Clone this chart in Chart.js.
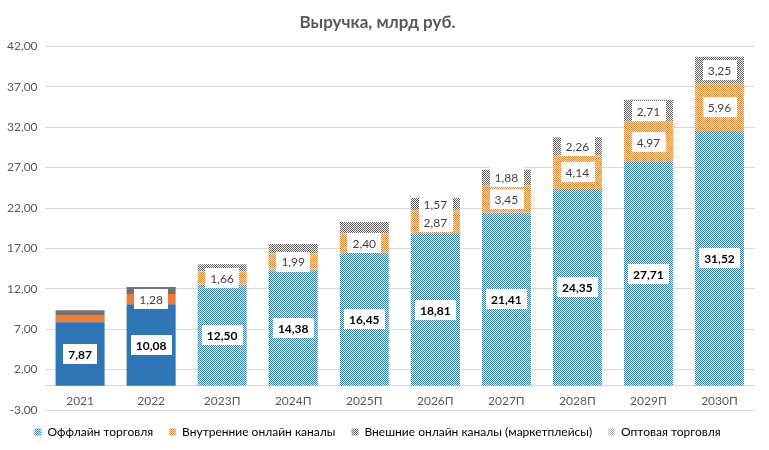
<!DOCTYPE html>
<html>
<head>
  <meta charset="UTF-8">
  <title>Выручка, млрд руб.</title>
  <style type="text/css">
    html, body { margin: 0; padding: 0; background: #fff; }
    #chart-container { width: 769px; height: 450px; }
  </style>
  <script type="text/javascript" src="https://cdn.jsdelivr.net/npm/chart.js@4.4.0/dist/chart.umd.min.js"></script>
</head>
<body>
<div id="chart-container">
  <canvas id="mycanvas" width="769" height="450"></canvas>
</div>
<script>
// data
var categories = ['2021', '2022', '2023П', '2024П', '2025П', '2026П', '2027П', '2028П', '2029П', '2030П'];
var offline   = [7.87, 10.08, 12.50, 14.38, 16.45, 18.81, 21.41, 24.35, 27.71, 31.52];
var internal  = [0.88, 1.28, 1.66, 1.99, 2.40, 2.87, 3.45, 4.14, 4.97, 5.96];
var external  = [0.58, 0.87, 0.89, 1.17, 1.42, 1.57, 1.88, 2.26, 2.71, 3.25];
var wholesale = [0, 0, 0, 0, 0, 0, 0, 0, 0, 0];
// which values carry a label
var offlineLabeled  = [true, true, true, true, true, true, true, true, true, true];
var internalLabeled = [false, true, true, true, true, true, true, true, true, true];
var externalLabeled = [false, false, false, false, false, true, true, true, true, true];
var wholesaleLabeled = [false, false, false, false, false, false, false, false, false, false];
var forecastFrom = 2; // index of first forecast year
var yTicks = { min: -3, max: 42, step: 5 };

var FONT = "Lato, 'Open Sans', sans-serif";

function makePattern(color) {
  var c = document.createElement('canvas');
  c.width = 2; c.height = 2;
  var g = c.getContext('2d');
  g.fillStyle = '#ffffff';
  g.fillRect(0, 0, 2, 2);
  g.fillStyle = color;
  g.fillRect(0, 0, 1, 1);
  g.fillRect(1, 1, 1, 1);
  return g.createPattern(c, 'repeat');
}

// solid for actual years, checker pattern for forecast years
function barColor(color, patColor) {
  var pat = makePattern(patColor || color);
  return function(ctx) {
    return ctx.dataIndex >= forecastFrom ? pat : color;
  };
}

function fmt(v) {
  return v.toFixed(2).replace('.', ',');
}

var labelPlugin = {
  id: 'segLabels',
  afterDatasetsDraw: function(chart) {
    var ctx = chart.ctx;
    chart.data.datasets.forEach(function(ds, di) {
      var meta = chart.getDatasetMeta(di);
      meta.data.forEach(function(bar, i) {
        if (!ds.labeled[i]) return;
        var yc = (bar.y + bar.base) / 2;
        var txt = fmt(ds.data[i]);
        ctx.save();
        ctx.font = (ds.boldLabels ? 'bold ' : '') + '12px ' + FONT;
        var w = ctx.measureText(txt).width;
        ctx.fillStyle = '#ffffff';
        ctx.fillRect(Math.round(bar.x - w / 2 - 5), Math.round(yc - 10), Math.round(w + 10), 20);
        ctx.fillStyle = ds.boldLabels ? '#000000' : '#404040';
        ctx.textAlign = 'center';
        ctx.textBaseline = 'middle';
        ctx.fillText(txt, bar.x, yc + 1);
        ctx.restore();
      });
    });
  }
};

var chartdata = {
  labels: categories,
  datasets: [
    { label: 'Оффлайн торговля', data: offline, labeled: offlineLabeled, boldLabels: true,
      backgroundColor: barColor('#2e75b6'), legendColor: '#2e75b6' },
    { label: 'Внутренние онлайн каналы', data: internal, labeled: internalLabeled,
      backgroundColor: barColor('#ed7d31'), legendColor: '#ed7d31' },
    { label: 'Внешние онлайн каналы (маркетплейсы)', data: external, labeled: externalLabeled,
      backgroundColor: barColor('#757171', '#5f5b5b'), legendColor: '#5f5b5b' },
    { label: 'Оптовая торговля', data: wholesale, labeled: wholesaleLabeled,
      backgroundColor: barColor('#a5a5a5'), legendColor: '#a5a5a5' }
  ]
};

var ctx = document.getElementById('mycanvas');
var barGraph = new Chart(ctx, {
  type: 'bar',
  data: chartdata,
  plugins: [labelPlugin],
  options: {
    responsive: false,
    animation: false,
    datasets: { bar: { categoryPercentage: 1, barPercentage: 0.69, borderWidth: 0 } },
    layout: { padding: { left: 0, right: 14, top: 4, bottom: 2 } },
    scales: {
      x: {
        stacked: true,
        position: { y: 0 },
        grid: { display: false },
        border: { display: true, color: '#d9d9d9', width: 1 },
        ticks: { color: '#595959', font: { family: FONT, size: 12 }, padding: 0 }
      },
      y: {
        stacked: true,
        min: yTicks.min,
        max: yTicks.max,
        grid: { color: '#d9d9d9', drawTicks: false },
        border: { display: false },
        ticks: {
          stepSize: yTicks.step,
          color: '#595959',
          font: { family: FONT, size: 12 },
          padding: 7,
          callback: function(v) { return fmt(v); }
        }
      }
    },
    plugins: {
      title: {
        display: true,
        text: 'Выручка, млрд руб.',
        color: '#595959',
        font: { family: FONT, size: 17, weight: 'bold' },
        padding: { top: 8, bottom: 14 }
      },
      legend: {
        position: 'bottom',
        labels: {
          color: '#595959',
          font: { family: FONT, size: 12 },
          boxWidth: 7,
          boxHeight: 7,
          padding: 16,
          generateLabels: function(chart) {
            return chart.data.datasets.map(function(ds, i) {
              return {
                text: ds.label,
                fillStyle: makePattern(ds.legendColor),
                strokeStyle: 'rgba(0,0,0,0)',
                lineWidth: 0,
                datasetIndex: i
              };
            });
          }
        }
      },
      tooltip: { enabled: false }
    }
  }
});
</script>
</body>
</html>
